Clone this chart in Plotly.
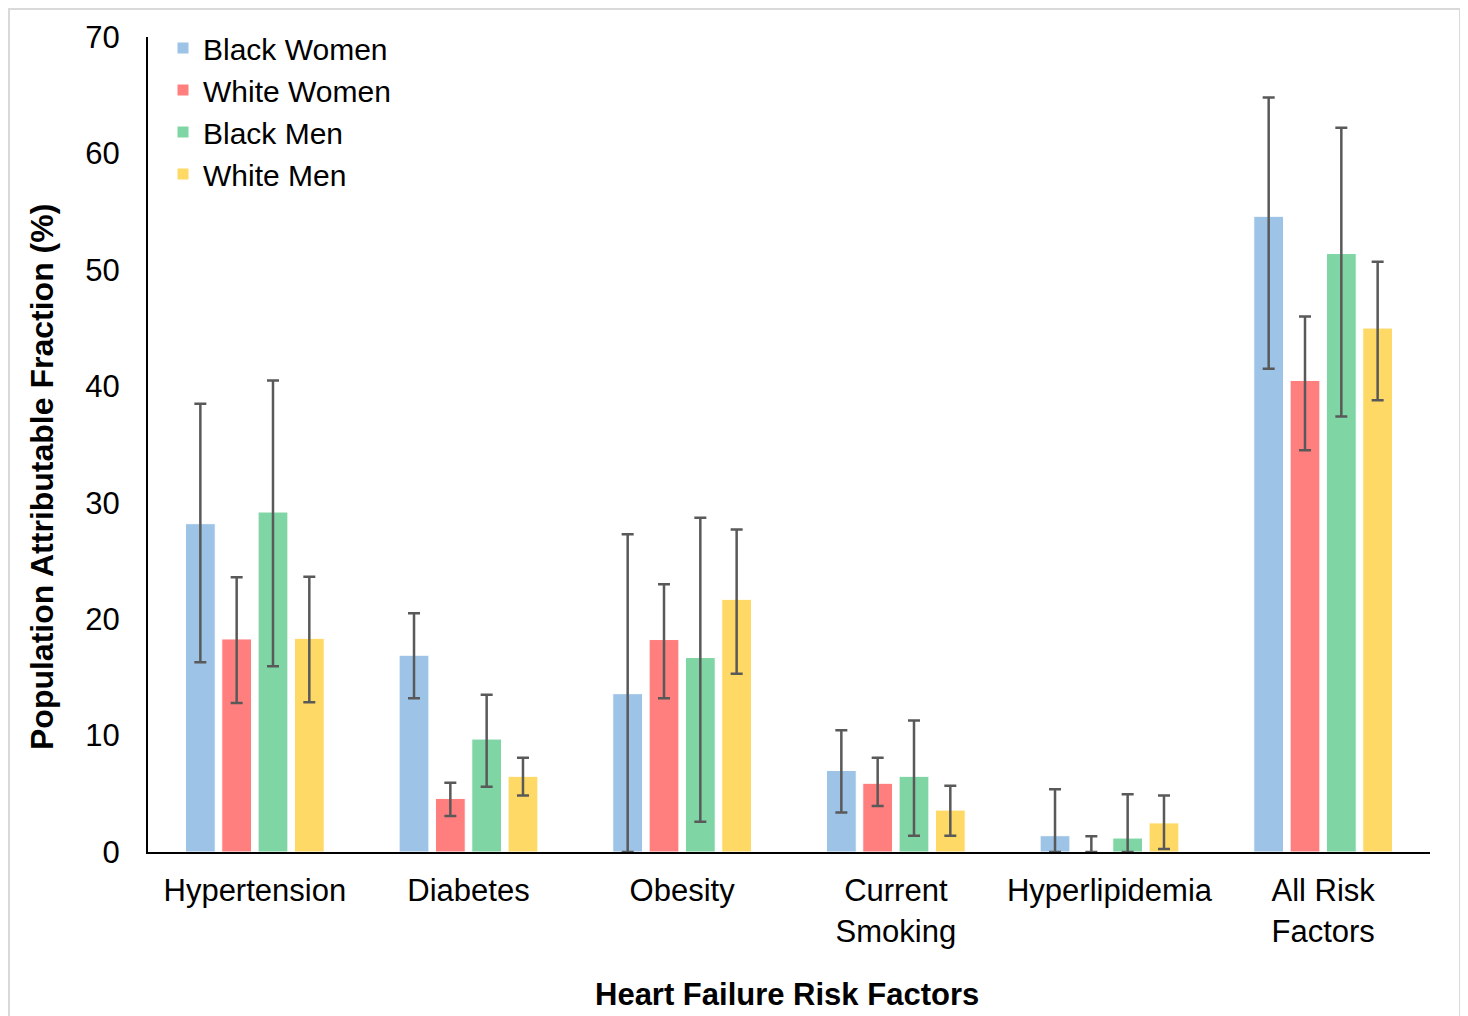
import plotly.graph_objects as go

categories = ["Hypertension", "Diabetes", "Obesity", "Current<br>Smoking", "Hyperlipidemia", "All Risk<br>Factors"]
series_names = ["Black Women", "White Women", "Black Men", "White Men"]
colors = ["#9DC3E6", "#FF7F7F", "#7FD6A4", "#FFD966"]

black_women = [28.2, 16.9, 13.6, 7.0, 1.4, 54.6]
black_women_lo = [16.3, 13.2, 0.0, 3.4, 0.0, 41.5]
black_women_hi = [38.5, 20.5, 27.3, 10.45, 5.4, 64.8]

white_women = [18.3, 4.6, 18.25, 5.9, 0.0, 40.5]
white_women_lo = [12.8, 3.1, 13.2, 3.95, 0.0, 34.5]
white_women_hi = [23.6, 5.95, 23.0, 8.1, 1.35, 46.0]

black_men = [29.2, 9.7, 16.7, 6.5, 1.2, 51.4]
black_men_lo = [15.95, 5.6, 2.6, 1.4, 0.0, 37.4]
black_men_hi = [40.5, 13.5, 28.7, 11.3, 4.95, 62.2]

white_men = [18.35, 6.5, 21.7, 3.6, 2.5, 45.0]
white_men_lo = [12.86, 4.85, 15.3, 1.4, 0.26, 38.8]
white_men_hi = [23.65, 8.1, 27.7, 5.7, 4.85, 50.7]

y_ticks = [0, 10, 20, 30, 40, 50, 60, 70]

all_series = [
    (black_women, black_women_lo, black_women_hi),
    (white_women, white_women_lo, white_women_hi),
    (black_men, black_men_lo, black_men_hi),
    (white_men, white_men_lo, white_men_hi),
]

FONT = "Liberation Sans, Arial, sans-serif"

fig = go.Figure()
for name, color, (vals, lo, hi) in zip(series_names, colors, all_series):
    plus = [h - v for v, h in zip(vals, hi)]
    minus = [v - l for v, l in zip(vals, lo)]
    fig.add_trace(go.Bar(
        name=name, x=categories, y=vals,
        marker=dict(color=color, line=dict(color="white", width=1)),
        error_y=dict(type="data", symmetric=False, array=plus, arrayminus=minus,
                     color="#595959", thickness=2.5, width=6),
    ))

# page body has an 8px margin: figure coordinates = screen coordinates - 8
OFF = 8
W, H = 1452, 1008
L, R, T, B = 148 - OFF, W - (1430 - OFF), 37 - OFF, H - (852 - OFF)
pw, ph = W - L - R, H - T - B


def px_x(sx):
    return (sx - OFF - L) / pw


def px_y(sy):
    return (H - B - (sy - OFF)) / ph


fig.update_layout(
    width=W, height=H,
    margin=dict(l=L, r=R, t=T, b=B, autoexpand=False),
    paper_bgcolor="white", plot_bgcolor="white",
    barmode="group", bargap=0.32, bargroupgap=0.18,
    font=dict(family=FONT, size=31, color="black"),
    legend=dict(x=px_x(163), y=px_y(22), xanchor="left", yanchor="top",
                font=dict(size=30), bgcolor="rgba(0,0,0,0)",
                tracegroupgap=0, itemwidth=30),
    showlegend=True,
)
fig.update_yaxes(
    range=[0, 70], tickvals=y_ticks, showgrid=False, zeroline=False,
    showline=True, linecolor="black", linewidth=2, automargin=False,
    ticks="outside", ticklen=20, tickcolor="rgba(0,0,0,0)",
    tickfont=dict(size=31, family=FONT),
)
fig.update_xaxes(
    showgrid=False, showline=True, linecolor="black", linewidth=2, automargin=False,
    ticks="outside", ticklen=10, tickcolor="rgba(0,0,0,0)",
    tickfont=dict(size=31, family=FONT),
)

# axis titles
fig.add_annotation(text="<b>Population Attributable Fraction (%)</b>",
                   xref="paper", yref="paper",
                   x=px_x(42), y=px_y(477),
                   textangle=-90, showarrow=False,
                   font=dict(size=32, family=FONT), xanchor="center", yanchor="middle")
fig.add_annotation(text="<b>Heart Failure Risk Factors</b>",
                   xref="paper", yref="paper",
                   x=px_x(787), y=px_y(995),
                   showarrow=False,
                   font=dict(size=31, family=FONT), xanchor="center", yanchor="middle")

# outer light-gray frame
fig.add_shape(type="rect", xref="paper", yref="paper",
              x0=px_x(9), x1=px_x(1460),
              y0=px_y(1040), y1=px_y(9),
              line=dict(color="#D9D9D9", width=2), fillcolor="rgba(0,0,0,0)",
              layer="below")

fig.write_html("out.html")
